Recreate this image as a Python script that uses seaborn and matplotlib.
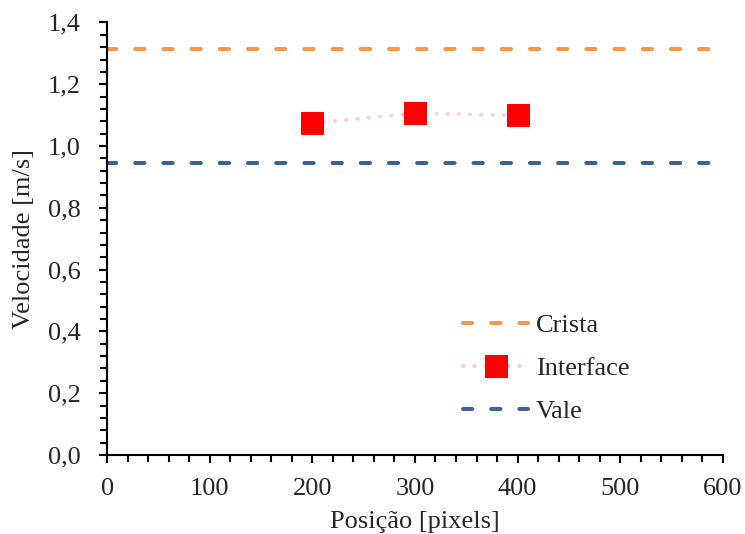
import matplotlib
matplotlib.use("Agg")
import matplotlib.pyplot as plt
from matplotlib.ticker import MultipleLocator, FuncFormatter
import seaborn as sns

# === DATA ===
x_range = [0, 600]
crista = [1.313, 1.313]
vale = [0.946, 0.946]
posicao = [200, 300, 400]
interface = [1.074, 1.106, 1.099]

sns.set_style("ticks")
plt.rcParams['font.family'] = ['Liberation Serif', 'DejaVu Serif']
plt.rcParams['font.size'] = 19

fig, ax = plt.subplots(figsize=(7.45, 5.34), dpi=100)

dash = (0, (2.3, 4.7))
sns.lineplot(x=x_range, y=crista, ax=ax, color='#F79646', lw=2.9,
             linestyle=dash, dash_capstyle='round', label='Crista')
sns.lineplot(x=posicao, y=interface, ax=ax, color='#FFCDD2', lw=2.9,
             linestyle=(0, (0.1, 2.7)), dash_capstyle='round',
             marker='s', markersize=16.5, markerfacecolor='#FF0000',
             markeredgecolor='#FF0000', label='Interface')
sns.lineplot(x=x_range, y=vale, ax=ax, color='#3A6294', lw=2.9,
             linestyle=dash, dash_capstyle='round', label='Vale')

ax.set_xlim(0, 600)
ax.set_ylim(0, 1.4)
ax.xaxis.set_major_locator(MultipleLocator(100))
ax.xaxis.set_minor_locator(MultipleLocator(20))
ax.yaxis.set_major_locator(MultipleLocator(0.2))
ax.yaxis.set_minor_locator(MultipleLocator(0.04))
ax.yaxis.set_major_formatter(FuncFormatter(lambda v, p: f"{v:.1f}".replace('.', ',')))
ax.tick_params(which='major', direction='out', length=6, width=1.5, color='black', labelsize=19)
ax.tick_params(which='minor', direction='out', length=5, width=1.5, color='black')
ax.tick_params(axis='x', which='major', pad=10.5)
ax.tick_params(axis='y', which='major', pad=13)

for s in ['top', 'right']:
    ax.spines[s].set_visible(False)
for s in ['left', 'bottom']:
    ax.spines[s].set_linewidth(1.5)
    ax.spines[s].set_color('black')

ax.set_xlabel('Posição [pixels]', fontsize=19, labelpad=8)
ax.set_ylabel('Velocidade [m/s]', fontsize=19, labelpad=9)

ax.legend(loc='center left', frameon=False, fontsize=19, handlelength=2.45,
          handletextpad=0.3, labelspacing=0.73, bbox_to_anchor=(0.54, 0.2))

plt.subplots_adjust(left=0.144, right=0.97, bottom=0.148, top=0.958)
plt.savefig('out.png', dpi=100)
